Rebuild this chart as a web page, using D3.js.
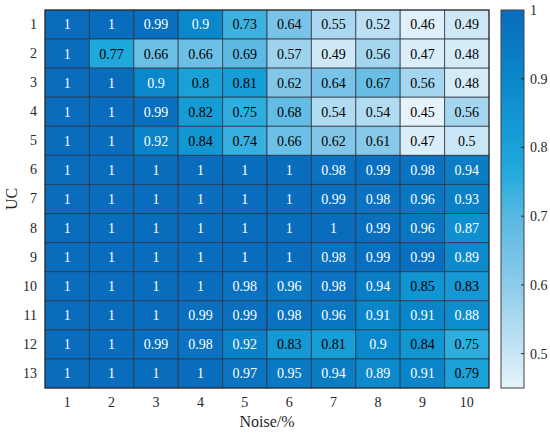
<!DOCTYPE html>
<html>
<head>
<meta charset="utf-8">
<script src="https://cdn.jsdelivr.net/npm/d3@7"></script>
<style>
  body { margin: 0; background: #fff; }
</style>
</head>
<body>
<div id="chart"></div>
<script>
var w = 550;
var h = 434;
var serif = "'Liberation Serif', 'Times New Roman', 'DejaVu Serif', serif";

// data
var noiseLevels = ["1", "2", "3", "4", "5", "6", "7", "8", "9", "10"];
var ucLabels = ["1", "2", "3", "4", "5", "6", "7", "8", "9", "10", "11", "12", "13"];
var uc1  = [1, 1, 0.99, 0.9, 0.73, 0.64, 0.55, 0.52, 0.46, 0.49];
var uc2  = [1, 0.77, 0.66, 0.66, 0.69, 0.57, 0.49, 0.56, 0.47, 0.48];
var uc3  = [1, 1, 0.9, 0.8, 0.81, 0.62, 0.64, 0.67, 0.56, 0.48];
var uc4  = [1, 1, 0.99, 0.82, 0.75, 0.68, 0.54, 0.54, 0.45, 0.56];
var uc5  = [1, 1, 0.92, 0.84, 0.74, 0.66, 0.62, 0.61, 0.47, 0.5];
var uc6  = [1, 1, 1, 1, 1, 1, 0.98, 0.99, 0.98, 0.94];
var uc7  = [1, 1, 1, 1, 1, 1, 0.99, 0.98, 0.96, 0.93];
var uc8  = [1, 1, 1, 1, 1, 1, 1, 0.99, 0.96, 0.87];
var uc9  = [1, 1, 1, 1, 1, 1, 0.98, 0.99, 0.99, 0.89];
var uc10 = [1, 1, 1, 1, 0.98, 0.96, 0.98, 0.94, 0.85, 0.83];
var uc11 = [1, 1, 1, 0.99, 0.99, 0.98, 0.96, 0.91, 0.91, 0.88];
var uc12 = [1, 1, 0.99, 0.98, 0.92, 0.83, 0.81, 0.9, 0.84, 0.75];
var uc13 = [1, 1, 1, 1, 0.97, 0.95, 0.94, 0.89, 0.91, 0.79];
var colorTicks = [0.5, 0.6, 0.7, 0.8, 0.9, 1];

var rows = [uc1, uc2, uc3, uc4, uc5, uc6, uc7, uc8, uc9, uc10, uc11, uc12, uc13];

// flatten into cells
var cells = [];
rows.forEach(function (r, i) {
  r.forEach(function (v, j) {
    cells.push({ row: ucLabels[i], col: noiseLevels[j], value: v });
  });
});

// plot box (note: "top" is reserved on window, so use pad* names)
var padLeft = 45, padRight = 489, padTop = 10, padBottom = 388;

var svg = d3.select("#chart")
  .append("svg")
  .attr("width", w)
  .attr("height", h)
  .attr("font-family", serif);

var xScale = d3.scaleBand().domain(noiseLevels).range([padLeft, padRight]);
var yScale = d3.scaleBand().domain(ucLabels).range([padTop, padBottom]);

var color = d3.scaleLinear()
  .domain([0.45, 0.6, 0.7, 0.77, 0.9, 1])
  .range(["#e6f3fb", "#8dcbea", "#58b8e2", "#1ea8dc", "#0a88cb", "#0a6cbd"])
  .clamp(true);

// cells
svg.append("g")
  .selectAll("rect")
  .data(cells)
  .enter()
  .append("rect")
  .attr("x", function (d) { return xScale(d.col); })
  .attr("y", function (d) { return yScale(d.row); })
  .attr("width", xScale.bandwidth())
  .attr("height", yScale.bandwidth())
  .attr("fill", function (d) { return color(d.value); })
  .attr("stroke", "#2b3440")
  .attr("stroke-opacity", 0.75)
  .attr("stroke-width", 1);

// cell labels
svg.append("g")
  .selectAll("text")
  .data(cells)
  .enter()
  .append("text")
  .attr("x", function (d) { return xScale(d.col) + xScale.bandwidth() / 2; })
  .attr("y", function (d) { return yScale(d.row) + yScale.bandwidth() / 2; })
  .attr("dy", "0.35em")
  .attr("text-anchor", "middle")
  .attr("font-size", 14)
  .style("font-family", serif)
  .attr("fill", function (d) { return d.value >= 0.86 ? "#ffffff" : "#000000"; })
  .text(function (d) { return d.value; });

// outer frame
svg.append("rect")
  .attr("x", padLeft)
  .attr("y", padTop)
  .attr("width", padRight - padLeft)
  .attr("height", padBottom - padTop)
  .attr("fill", "none")
  .attr("stroke", "#262626")
  .attr("stroke-width", 1);

// axes
var xAxis = svg.append("g")
  .attr("transform", "translate(0," + padBottom + ")")
  .call(d3.axisBottom(xScale).tickSize(0).tickPadding(9));
xAxis.select(".domain").remove();
xAxis.attr("font-family", serif);
xAxis.selectAll("text").attr("font-size", 14).attr("fill", "#262626")
  .style("font-family", serif);

var yAxis = svg.append("g")
  .attr("transform", "translate(" + padLeft + ",0)")
  .call(d3.axisLeft(yScale).tickSize(0).tickPadding(8));
yAxis.select(".domain").remove();
yAxis.attr("font-family", serif);
yAxis.selectAll("text").attr("font-size", 14).attr("fill", "#262626")
  .style("font-family", serif);

svg.append("text")
  .attr("x", (padLeft + padRight) / 2)
  .attr("y", 427)
  .attr("text-anchor", "middle")
  .attr("font-size", 16)
  .style("font-family", serif)
  .attr("fill", "#262626")
  .text("Noise/%");

svg.append("text")
  .attr("transform", "translate(17," + (padTop + padBottom) / 2 + ") rotate(-90)")
  .attr("text-anchor", "middle")
  .attr("font-size", 16)
  .style("font-family", serif)
  .attr("fill", "#262626")
  .text("UC");

// colorbar
var cbLeft = 501, cbRight = 524;
var cScale = d3.scaleLinear().domain([0.45, 1]).range([padBottom, padTop]);

var defs = svg.append("defs");
var grad = defs.append("linearGradient")
  .attr("id", "cbgrad")
  .attr("x1", "0").attr("y1", "1").attr("x2", "0").attr("y2", "0");
d3.range(0, 1.0001, 0.05).forEach(function (t) {
  var v = 0.45 + t * 0.55;
  grad.append("stop")
    .attr("offset", t)
    .attr("stop-color", color(v));
});

svg.append("rect")
  .attr("x", cbLeft)
  .attr("y", padTop)
  .attr("width", cbRight - cbLeft)
  .attr("height", padBottom - padTop)
  .attr("fill", "url(#cbgrad)")
  .attr("stroke", "#404040")
  .attr("stroke-width", 1);

var cbAxis = svg.append("g")
  .attr("transform", "translate(" + cbRight + ",0)")
  .call(d3.axisRight(cScale).tickValues(colorTicks).tickSize(0).tickPadding(6)
    .tickFormat(function (d) { return d; }));
cbAxis.select(".domain").remove();
cbAxis.attr("font-family", serif);
cbAxis.selectAll("text").attr("font-size", 14).attr("fill", "#262626")
  .style("font-family", serif);

// small inner tick marks on the colorbar
svg.append("g")
  .selectAll("line")
  .data(colorTicks.slice(0, colorTicks.length - 1))
  .enter()
  .append("line")
  .attr("x1", cbRight - 3)
  .attr("x2", cbRight)
  .attr("y1", function (d) { return cScale(d); })
  .attr("y2", function (d) { return cScale(d); })
  .attr("stroke", "#262626")
  .attr("stroke-width", 1);
</script>
</body>
</html>
